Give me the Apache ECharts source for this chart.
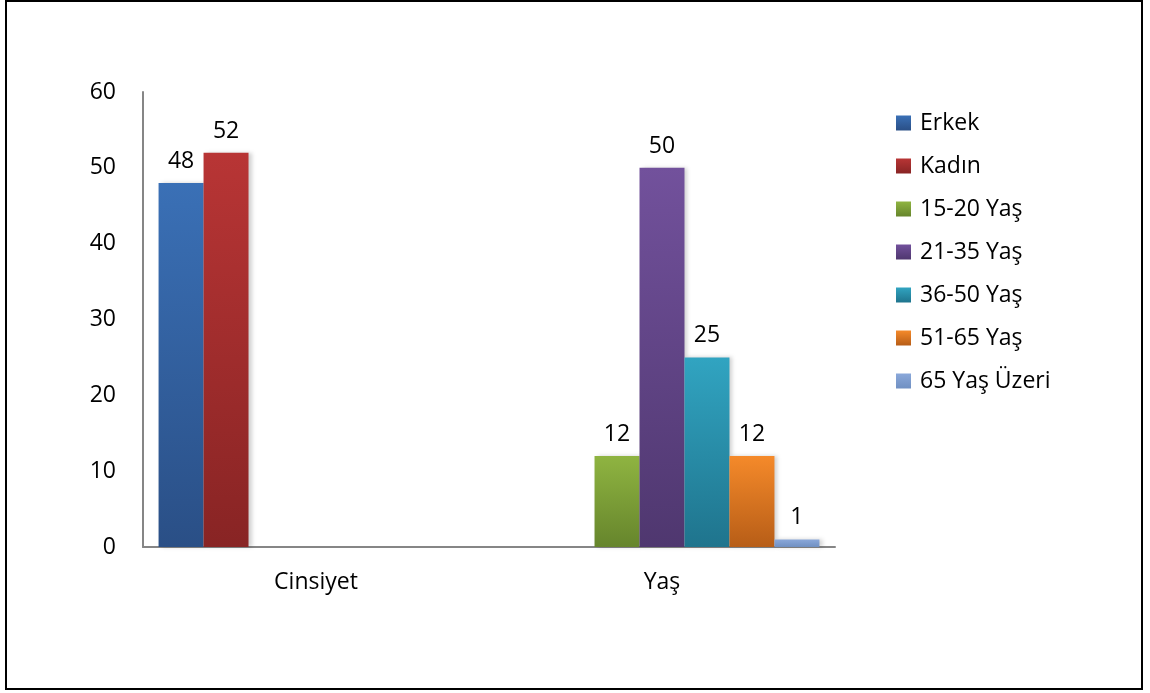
<!DOCTYPE html>
<html>
<head>
<meta charset="utf-8">
<script src="https://cdn.jsdelivr.net/npm/echarts@6/dist/echarts.min.js"></script>
<style>
  html, body { margin: 0; padding: 0; background: #fff; }
  #chart { width: 1150px; height: 693px; }
</style>
</head>
<body>
<div id="chart"></div>
<script>
const categories = ['Cinsiyet', 'Yaş']
const seriesNames = ['Erkek', 'Kadın', '15-20 Yaş', '21-35 Yaş', '36-50 Yaş', '51-65 Yaş', '65 Yaş Üzeri']
const erkek = [48, null]
const kadin = [52, null]
const yas15_20 = [null, 12]
const yas21_35 = [null, 50]
const yas36_50 = [null, 25]
const yas51_65 = [null, 12]
const yas65plus = [null, 1]
const yTicks = [0, 10, 20, 30, 40, 50, 60]

const seriesData = [erkek, kadin, yas15_20, yas21_35, yas36_50, yas51_65, yas65plus]
// top / bottom colours of the gradient fills
const colors = [
  ['#3a70b6', '#2a4f86'],
  ['#b83535', '#882424'],
  ['#8fb441', '#66852c'],
  ['#72519c', '#4f376f'],
  ['#31a4c1', '#1f748d'],
  ['#f58a2a', '#b75d17'],
  ['#8aa8da', '#7090c2']
]

const grad = c => new echarts.graphic.LinearGradient(0, 0, 0, 1, [
  { offset: 0, color: c[0] },
  { offset: 1, color: c[1] }
])

const font = "'Open Sans', 'DejaVu Sans', sans-serif"

const chart = echarts.init(document.getElementById('chart'))

chart.setOption({
  animation: false,
  textStyle: { fontFamily: font },
  graphic: [{
    type: 'rect',
    shape: { x: 6, y: 1, width: 1136, height: 688 },
    style: { fill: 'none', stroke: '#000', lineWidth: 2 }
  }],
  grid: { left: 143, right: 315, top: 92, bottom: 146 },
  legend: {
    orient: 'vertical',
    left: 891,
    top: 106,
    itemWidth: 15,
    itemHeight: 15,
    itemGap: 19,
    icon: 'rect',
    textStyle: { fontSize: 23, color: '#000', fontFamily: font, lineHeight: 24, padding: [0, 0, 0, 4] },
    data: seriesNames
  },
  xAxis: {
    type: 'category',
    data: categories,
    axisLine: { lineStyle: { color: '#868686', width: 2 } },
    axisTick: { show: false },
    axisLabel: { fontSize: 23, color: '#000', margin: 24 }
  },
  yAxis: {
    type: 'value',
    min: yTicks[0],
    max: yTicks[yTicks.length - 1],
    interval: 10,
    axisLine: { show: true, lineStyle: { color: '#868686', width: 2 } },
    axisTick: { show: false },
    splitLine: { show: false },
    axisLabel: { fontSize: 23, color: '#000', margin: 27 }
  },
  series: seriesNames.map((name, i) => ({
    name,
    type: 'bar',
    data: seriesData[i],
    barGap: 0,
    barCategoryGap: '9%',
    itemStyle: {
      color: grad(colors[i]),
      shadowColor: 'rgba(0,0,0,0.18)',
      shadowBlur: 4,
      shadowOffsetX: 3
    },
    label: {
      show: true,
      position: 'top',
      distance: 10,
      fontSize: 23,
      color: '#000'
    }
  }))
})
</script>
</body>
</html>
